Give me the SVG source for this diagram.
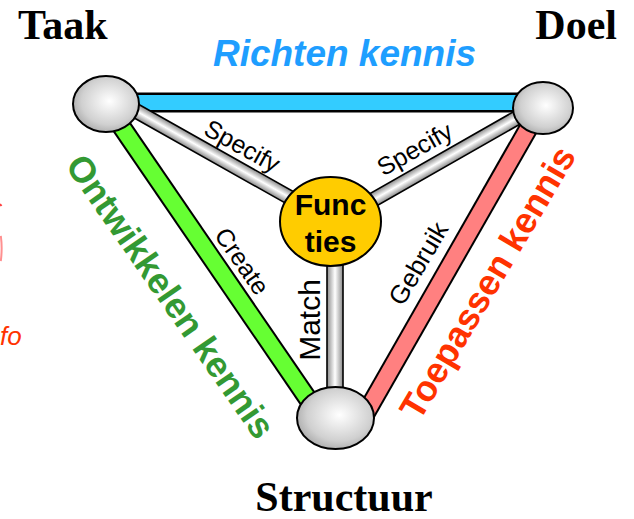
<svg xmlns="http://www.w3.org/2000/svg" width="634" height="519" viewBox="0 0 634 519">
<defs>
<radialGradient id="sphere" cx="0.55" cy="0.45" r="0.6">
<stop offset="0" stop-color="#ffffff"/>
<stop offset="0.7" stop-color="#d0d0d0"/>
<stop offset="1" stop-color="#a8a8a8"/>
</radialGradient>
<linearGradient id="tube" x1="0" y1="0" x2="0" y2="1">
<stop offset="0" stop-color="#8a8a8a"/>
<stop offset="0.5" stop-color="#ffffff"/>
<stop offset="1" stop-color="#8a8a8a"/>
</linearGradient>
<style>
.sphere{fill:url(#sphere);stroke:#000;stroke-width:2}
.tube{fill:url(#tube);stroke:#000;stroke-width:1.6}
.edge{stroke:#000;stroke-width:20;stroke-linecap:butt}
.title{font-family:"Liberation Serif","Times New Roman",serif;font-weight:bold;font-size:42px;fill:#000}
.rel{font-family:"Liberation Sans",Arial,sans-serif;fill:#000}
.kn{font-family:"Liberation Sans",Arial,sans-serif;font-weight:bold;font-size:36px;text-anchor:middle}
</style>
</defs>
<rect width="634" height="519" fill="#fff"/>
<g id="connectors">
<line class="edge" x1="106" y1="102.5" x2="543" y2="102.5" stroke-width="19"/>
<line x1="106" y1="102.5" x2="543" y2="102.5" stroke="#33CCFF" stroke-width="15"/>
<line class="edge" x1="106" y1="104" x2="321" y2="418"/>
<line x1="106" y1="104" x2="321" y2="418" stroke="#66FF33" stroke-width="16"/>
<line class="edge" x1="540" y1="108" x2="363" y2="418"/>
<line x1="540" y1="108" x2="363" y2="418" stroke="#FF8080" stroke-width="16"/>
<g transform="translate(106,94) rotate(29.4)"><rect class="tube" x="0" y="-7" width="256" height="14"/></g>
<g transform="translate(543,103) rotate(150.3)"><rect class="tube" x="0" y="-7" width="246" height="14"/></g>
<g transform="translate(335,221) rotate(90)"><rect class="tube" x="0" y="-8" width="197" height="16"/></g>
</g>
<g id="functies">
<ellipse cx="330.5" cy="221.5" rx="50.5" ry="44.5" fill="#FFCC00" stroke="#000" stroke-width="2"/>
<text x="330.5" y="215" font-family="Liberation Sans,Arial,sans-serif" font-weight="bold" font-size="30" text-anchor="middle">Func</text>
<text x="330.5" y="252" font-family="Liberation Sans,Arial,sans-serif" font-weight="bold" font-size="30" text-anchor="middle">ties</text>
</g>
<g id="taak">
<ellipse class="sphere" cx="106" cy="104" rx="33" ry="28"/>
<text class="title" x="18" y="39">Taak</text>
</g>
<g id="doel">
<ellipse class="sphere" cx="543" cy="108" rx="30" ry="26"/>
<text class="title" x="617" y="39" text-anchor="end">Doel</text>
</g>
<g id="structuur">
<ellipse class="sphere" cx="335.5" cy="418" rx="38.5" ry="31"/>
<text class="title" x="344" y="511" text-anchor="middle">Structuur</text>
</g>
<g id="labels">
<text x="344.5" y="66" font-family="Liberation Sans,Arial,sans-serif" font-weight="bold" font-style="italic" font-size="37" fill="#1E9EFF" text-anchor="middle">Richten kennis</text>
<text class="kn" fill="#339933" transform="translate(160.5,303.5) rotate(55.2)">Ontwikkelen kennis</text>
<text class="kn" fill="#FF3300" transform="translate(498.3,288.9) rotate(-59.4)" font-size="35">Toepassen kennis</text>
<text class="rel" font-size="25" text-anchor="middle" transform="translate(238,153.5) rotate(29)">Specify</text>
<text class="rel" font-size="25" text-anchor="middle" transform="translate(419,156.5) rotate(-29.5)">Specify</text>
<text class="rel" font-size="25" text-anchor="middle" transform="translate(235,266) rotate(55.2)">Create</text>
<text class="rel" font-size="26" text-anchor="middle" transform="translate(426,268) rotate(-59.4)">Gebruik</text>
<text class="rel" font-size="30" text-anchor="middle" transform="translate(320,320) rotate(-90)">Match</text>
</g>
<g id="edge-fragments">
<path d="M0,204 L1.5,206" stroke="#FF4040" stroke-width="2" fill="none"/>
<path d="M0.8,236 Q2.5,248 0.8,261" stroke="#FF9090" stroke-width="2" fill="none"/>
<text x="0" y="345" font-family="Liberation Sans,Arial,sans-serif" font-style="italic" font-size="26" fill="#FF3300">fo</text>
</g>
</svg>
